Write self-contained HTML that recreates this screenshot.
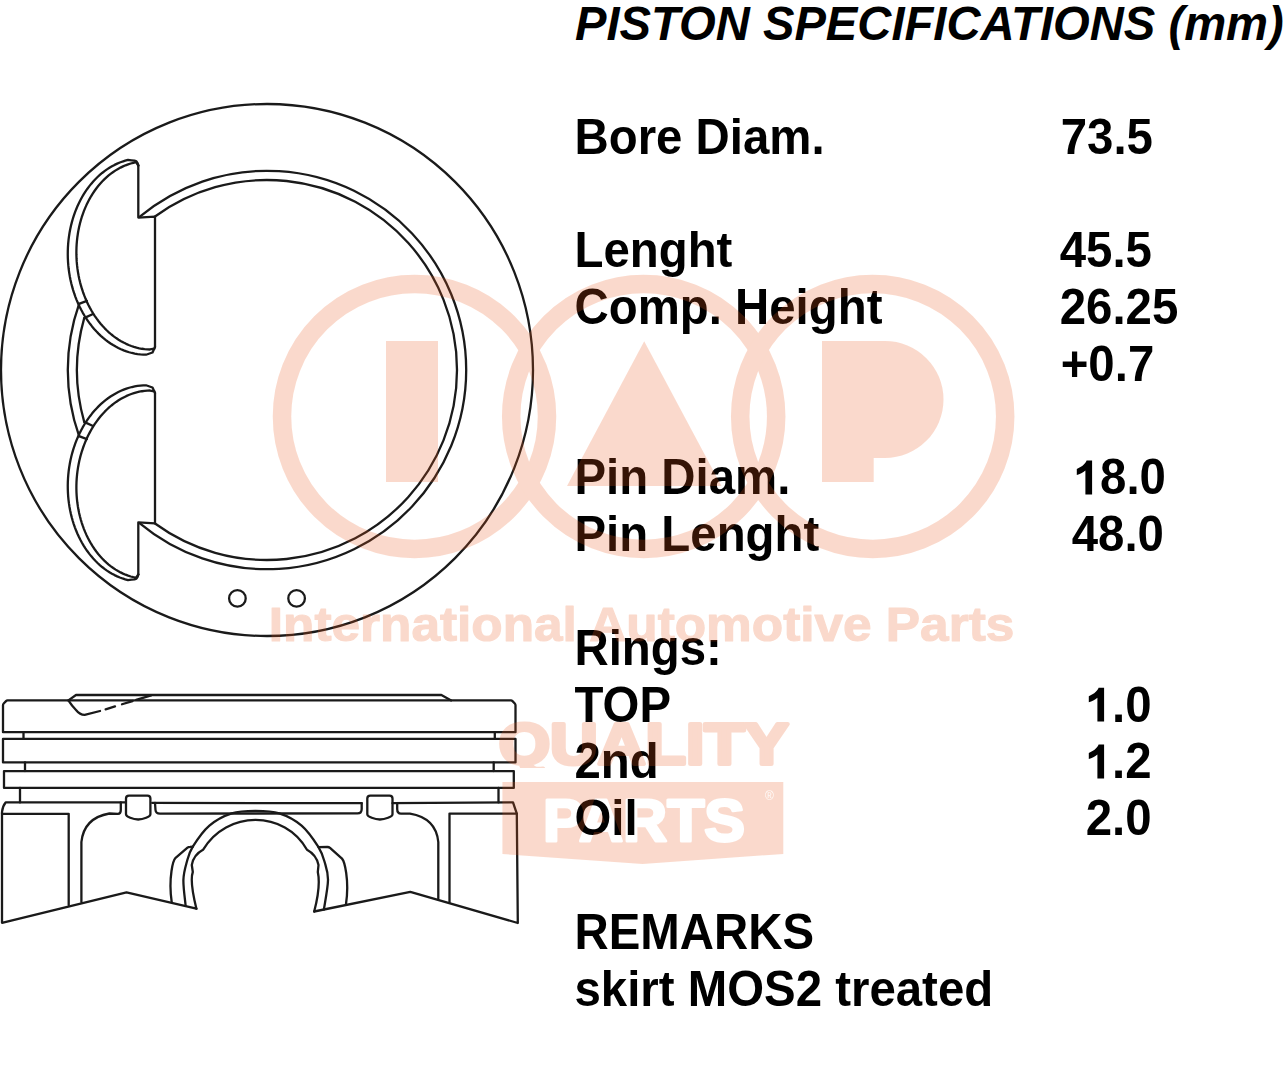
<!DOCTYPE html>
<html><head><meta charset="utf-8"><style>
html,body{margin:0;padding:0;background:#fff;width:1284px;height:1080px;overflow:hidden}
svg{display:block}
</style></head><body>
<svg width="1284" height="1080" viewBox="0 0 1284 1080">
<rect width="1284" height="1080" fill="#fff"/>
<g fill="none" stroke="#1a1a1a" stroke-width="2.3" stroke-linejoin="round" stroke-linecap="round">
<circle cx="267.0" cy="370.0" r="266.0"/>
<path d="M139.50,216.95 A199.2,199.2 0 1 1 139.50,523.05"/>
<path d="M155.00,216.52 A190.0,190.0 0 1 1 155.00,523.48"/>
<path d="M79.12,303.80 A199.2,199.2 0 0 0 79.12,436.20"/>
<path d="M84.28,317.90 A190.0,190.0 0 0 0 84.28,422.10"/>
<path d="M138.30,165.50L137.60,163.20L136.40,161.40L134.40,160.60L131.50,160.30L127.99,159.93L125.24,160.67L122.53,161.53L119.84,162.53L117.18,163.65L114.56,164.90L111.99,166.27L109.45,167.77L106.96,169.39L104.53,171.13L102.14,172.98L99.82,174.94L97.55,177.02L95.35,179.21L93.22,181.50L91.15,183.89L89.16,186.38L87.24,188.97L85.40,191.65L83.64,194.41L81.96,197.27L80.36,200.20L78.86,203.21L77.44,206.29L76.11,209.44L74.88,212.65L73.74,215.93L72.69,219.25L71.75,222.63L70.90,226.06L70.15,229.52L69.50,233.03L68.95,236.56L68.51,240.13L68.17,243.71L67.93,247.31L67.80,250.93L67.77,254.55L67.84,258.17L68.02,261.80L68.30,265.41L68.69,269.02L69.18,272.60L69.77,276.17L70.46,279.70L71.25,283.21L72.14,286.68L73.13,290.11L74.22,293.49L75.40,296.82L76.67,300.10L78.04,303.31L79.50,306.47L81.04,309.55L82.67,312.57L84.39,315.51L86.18,318.36L88.06,321.13L90.01,323.82L92.03,326.41L94.13,328.91L96.29,331.31L98.52,333.61L100.81,335.80L103.16,337.88L105.57,339.86L108.03,341.72L110.54,343.46L113.09,345.09L115.69,346.59L118.32,347.97L120.99,349.23L123.69,350.36L126.42,351.37L129.18,352.24L131.95,352.99L134.74,353.60L137.55,354.08L140.36,354.43L143.18,354.64L146.00,354.72L152.50,352.50L155.00,347.00"/>
<path d="M138.30,165.50L136.00,162.20L133.35,162.78L130.72,163.49L128.12,164.33L125.55,165.30L123.01,166.39L120.51,167.60L118.05,168.93L115.63,170.39L113.25,171.96L110.93,173.65L108.65,175.45L106.44,177.36L104.28,179.39L102.18,181.51L100.15,183.74L98.19,186.07L96.29,188.49L94.47,191.01L92.72,193.61L91.06,196.30L89.47,199.08L87.96,201.93L86.54,204.85L85.21,207.85L83.96,210.91L82.81,214.03L81.74,217.21L80.77,220.44L79.89,223.73L79.11,227.05L78.42,230.41L77.84,233.81L77.35,237.24L76.96,240.70L76.67,244.17L76.48,247.66L76.39,251.16L76.40,254.66L76.51,258.17L76.72,261.67L77.04,265.17L77.45,268.65L77.96,272.11L78.57,275.55L79.27,278.96L80.07,282.34L80.97,285.68L81.96,288.98L83.05,292.23L84.23,295.43L85.49,298.57L86.84,301.66L88.28,304.68L89.81,307.63L91.41,310.51L93.10,313.31L94.86,316.04L96.70,318.67L98.61,321.23L100.59,323.68L102.63,326.05L104.74,328.32L106.91,330.48L109.14,332.54L111.43,334.50L113.77,336.34L116.15,338.07L118.58,339.69L121.05,341.19L123.56,342.57L126.11,343.83L128.69,344.97L131.29,345.98L133.92,346.87L136.57,347.63L139.24,348.26L141.92,348.76L144.61,349.13L147.31,349.38L150.01,349.49L154.30,348.60"/>
<path d="M138.3,165.50 L138.3,217.60 L155.0,216.60 L155.0,347.00"/>
<path d="M79.0,303.80 L86.9,300.90 M84.6,317.90 L92.5,314.30"/>
<path d="M138.30,574.50L137.60,576.80L136.40,578.60L134.40,579.40L131.50,579.70L127.99,580.07L125.24,579.33L122.53,578.47L119.84,577.47L117.18,576.35L114.56,575.10L111.99,573.73L109.45,572.23L106.96,570.61L104.53,568.87L102.14,567.02L99.82,565.06L97.55,562.98L95.35,560.79L93.22,558.50L91.15,556.11L89.16,553.62L87.24,551.03L85.40,548.35L83.64,545.59L81.96,542.73L80.36,539.80L78.86,536.79L77.44,533.71L76.11,530.56L74.88,527.35L73.74,524.07L72.69,520.75L71.75,517.37L70.90,513.94L70.15,510.48L69.50,506.97L68.95,503.44L68.51,499.87L68.17,496.29L67.93,492.69L67.80,489.07L67.77,485.45L67.84,481.83L68.02,478.20L68.30,474.59L68.69,470.98L69.18,467.40L69.77,463.83L70.46,460.30L71.25,456.79L72.14,453.32L73.13,449.89L74.22,446.51L75.40,443.18L76.67,439.90L78.04,436.69L79.50,433.53L81.04,430.45L82.67,427.43L84.39,424.49L86.18,421.64L88.06,418.87L90.01,416.18L92.03,413.59L94.13,411.09L96.29,408.69L98.52,406.39L100.81,404.20L103.16,402.12L105.57,400.14L108.03,398.28L110.54,396.54L113.09,394.91L115.69,393.41L118.32,392.03L120.99,390.77L123.69,389.64L126.42,388.63L129.18,387.76L131.95,387.01L134.74,386.40L137.55,385.92L140.36,385.57L143.18,385.36L146.00,385.28L152.50,387.50L155.00,393.00"/>
<path d="M138.30,574.50L136.00,577.80L133.35,577.22L130.72,576.51L128.12,575.67L125.55,574.70L123.01,573.61L120.51,572.40L118.05,571.07L115.63,569.61L113.25,568.04L110.93,566.35L108.65,564.55L106.44,562.64L104.28,560.61L102.18,558.49L100.15,556.26L98.19,553.93L96.29,551.51L94.47,548.99L92.72,546.39L91.06,543.70L89.47,540.92L87.96,538.07L86.54,535.15L85.21,532.15L83.96,529.09L82.81,525.97L81.74,522.79L80.77,519.56L79.89,516.27L79.11,512.95L78.42,509.59L77.84,506.19L77.35,502.76L76.96,499.30L76.67,495.83L76.48,492.34L76.39,488.84L76.40,485.34L76.51,481.83L76.72,478.33L77.04,474.83L77.45,471.35L77.96,467.89L78.57,464.45L79.27,461.04L80.07,457.66L80.97,454.32L81.96,451.02L83.05,447.77L84.23,444.57L85.49,441.43L86.84,438.34L88.28,435.32L89.81,432.37L91.41,429.49L93.10,426.69L94.86,423.96L96.70,421.33L98.61,418.77L100.59,416.32L102.63,413.95L104.74,411.68L106.91,409.52L109.14,407.46L111.43,405.50L113.77,403.66L116.15,401.93L118.58,400.31L121.05,398.81L123.56,397.43L126.11,396.17L128.69,395.03L131.29,394.02L133.92,393.13L136.57,392.37L139.24,391.74L141.92,391.24L144.61,390.87L147.31,390.62L150.01,390.51L154.30,391.40"/>
<path d="M138.3,574.50 L138.3,522.40 L155.0,523.40 L155.0,393.00"/>
<path d="M79.0,436.20 L86.9,439.10 M84.6,422.10 L92.5,425.70"/>
<circle cx="237.4" cy="598.4" r="8.3"/>
<circle cx="296.6" cy="598.4" r="8.3"/>
</g>
<g fill="none" stroke="#1a1a1a" stroke-width="2.3" stroke-linejoin="round" stroke-linecap="round">
<path d="M68.4,700.4 L76,695 L441.4,695 L451.2,700.4"/>
<path d="M7.5,700.4 L511,700.4 Q511.8,700.4 512.5,701.1 L514.8,703.5 Q515.5,704.2 515.5,705.2 L515.5,732.2 L3,732.2 L3,705.2 Q3,704.2 3.7,703.5 L6,701.1 Q6.7,700.4 7.5,700.4"/>
<path d="M68.4,700.4 Q72,706 76,710 Q80,715 84.7,714.9 L100,711"/>
<path d="M105.6,709.28 L115.0,706.40 M122.0,704.25 L132.5,701.03 M136.2,699.90 L151.2,695.30"/>
<path d="M23.5,732.2 L23.5,738.9 M494.8,732.2 L494.8,738.9"/>
<path d="M3,738.9 L515.5,738.9 L515.5,762.4 L3,762.4 Z"/>
<path d="M25,762.4 L25,771.1 M493.7,762.4 L493.7,771.1"/>
<path d="M4.0,771.1 L513.8,771.1 L513.8,787.9 L4.0,787.9 Z"/>
<path d="M20,787.9 L20,802.4 M498.5,787.9 L498.5,802.4"/>
<path d="M125.5,802.4 L5.6,802.4 Q2.6,806 2.0,812 L2.0,922.8 L126.5,892.3 L196.4,908.7"/>
<path d="M152.2,802.9 L361.7,803.2"/>
<path d="M392.5,803.2 L513,802.4 L516.8,813.6 L517.8,923 L410.3,891.8 L314.2,911.5"/>
<path d="M2.0,813.8 L68.7,813.8 L68.7,905"/>
<path d="M516.8,813.6 L449.5,813.6 L449.5,902.4"/>
<path d="M81.4,902 L81.4,842 Q84,818 109.3,813.5 L118,813.9 Q120.8,813.9 120.8,810 L120.8,802.4"/>
<path d="M155,803 L155.5,810 Q155.8,813.6 160,813.6 L357.5,813.4 Q361.7,813.4 361.7,809 L361.7,803.2"/>
<path d="M438.3,898.7 L438.3,842 Q436,818 410,813.6 L401,813.6 Q397.2,813.6 397.2,809 L397.2,803.4"/>
<path d="M126.0,814.2 L126.0,798.6 Q126.0,795.6 129.0,795.6 L147.4,795.6 Q150.4,795.6 150.4,798.6 L150.4,814.2 C150.4,816.7 143.2,819.5 138.2,819.5 C133.2,819.5 126.0,816.7 126.0,814.2 Z"/>
<path d="M367.3,814.2 L367.3,798.6 Q367.3,795.6 370.3,795.6 L389.5,795.6 Q392.5,795.6 392.5,798.6 L392.5,814.2 C392.5,816.7 384.9,819.5 379.9,819.5 C374.9,819.5 367.3,816.7 367.3,814.2 Z"/>
<path d="M185.6,905.5 C185.23,901.25 183.20,887.25 183.40,880.00 C183.60,872.75 185.23,867.55 186.80,862.00 C188.37,856.45 189.03,852.77 192.80,846.70 C196.57,840.63 202.92,831.17 209.40,825.60 C215.88,820.03 224.02,815.77 231.70,813.30 C239.38,810.83 247.57,810.80 255.50,810.80 C263.43,810.80 271.62,810.83 279.30,813.30 C286.98,815.77 295.12,820.03 301.60,825.60 C308.08,831.17 314.37,840.63 318.20,846.70 C322.03,852.77 322.97,856.45 324.60,862.00 C326.23,867.55 328.12,872.08 328.00,880.00 C327.88,887.92 324.58,904.58 323.90,909.50"/>
<path d="M196.4,908.7 C193,895 190,880 192.8,872 L191.8,865 C193,858 197,853 203,849.8 C215,830 235,820 255.5,819.9 C276,820 296,830 307,849.8 C313,853 317,858 318.5,865 L317.8,872 C320,882 318,897 314.2,911.5"/>
<path d="M171.7,902 C170.2,892 170.2,880 171.5,871 C172.5,864 173.5,860 175.6,857.8 L187.5,847.6 Q188.5,846.8 190,846.8 L193,846.6"/>
<path d="M346,904 C347.5,894 347.5,882 346.2,873 C345.2,866 344.2,861 342,858.6 L330,847.8 Q329,847 327.5,847 L318.5,847.2"/>
</g>
<text x="575.0" y="39.6" font-family="Liberation Sans, sans-serif" font-weight="bold" font-size="47.2" fill="#000" font-style="italic">PISTON SPECIFICATIONS (mm)</text>
<text transform="translate(0 153.60) scale(1 1.035)" x="574.5" y="0" font-family="Liberation Sans, sans-serif" font-weight="bold" font-size="47.4" fill="#000" >Bore Diam.</text>
<text transform="translate(0 153.60) scale(1 1.035)" x="1060.7" y="0" font-family="Liberation Sans, sans-serif" font-weight="bold" font-size="47.4" fill="#000" >73.5</text>
<text transform="translate(0 267.20) scale(1 1.035)" x="574.5" y="0" font-family="Liberation Sans, sans-serif" font-weight="bold" font-size="47.4" fill="#000" >Lenght</text>
<text transform="translate(0 267.20) scale(1 1.035)" x="1059.7" y="0" font-family="Liberation Sans, sans-serif" font-weight="bold" font-size="47.4" fill="#000" >45.5</text>
<text transform="translate(0 324.00) scale(1 1.035)" x="574.5" y="0" font-family="Liberation Sans, sans-serif" font-weight="bold" font-size="47.4" fill="#000" >Comp. Height</text>
<text transform="translate(0 324.00) scale(1 1.035)" x="1059.7" y="0" font-family="Liberation Sans, sans-serif" font-weight="bold" font-size="47.4" fill="#000" >26.25</text>
<text transform="translate(0 380.80) scale(1 1.035)" x="1060.7" y="0" font-family="Liberation Sans, sans-serif" font-weight="bold" font-size="47.4" fill="#000" >+0.7</text>
<text transform="translate(0 494.40) scale(1 1.035)" x="574.5" y="0" font-family="Liberation Sans, sans-serif" font-weight="bold" font-size="47.4" fill="#000" >Pin Diam.</text>
<text transform="translate(0 494.40) scale(1 1.035)" x="1100.06162109375" y="0" font-family="Liberation Sans, sans-serif" font-weight="bold" font-size="47.4" fill="#000" >8.0</text>
<path fill="#000" d="M1086.60,460.60 L1092.10,460.60 L1092.10,494.40 L1085.40,494.40 L1085.40,470.60 C1082.90,472.80 1079.90,474.20 1076.80,475.00 L1076.80,469.00 C1079.20,468.00 1081.80,466.60 1083.80,464.60 C1085.20,463.20 1086.20,461.80 1086.60,460.60 Z"/>
<text transform="translate(0 551.20) scale(1 1.035)" x="574.5" y="0" font-family="Liberation Sans, sans-serif" font-weight="bold" font-size="47.4" fill="#000" >Pin Lenght</text>
<text transform="translate(0 551.20) scale(1 1.035)" x="1071.7" y="0" font-family="Liberation Sans, sans-serif" font-weight="bold" font-size="47.4" fill="#000" >48.0</text>
<text transform="translate(0 664.80) scale(1 1.035)" x="574.5" y="0" font-family="Liberation Sans, sans-serif" font-weight="bold" font-size="47.4" fill="#000" >Rings:</text>
<text transform="translate(0 721.60) scale(1 1.035)" x="574.5" y="0" font-family="Liberation Sans, sans-serif" font-weight="bold" font-size="47.4" fill="#000" >TOP</text>
<text transform="translate(0 721.60) scale(1 1.035)" x="1112.06162109375" y="0" font-family="Liberation Sans, sans-serif" font-weight="bold" font-size="47.4" fill="#000" >.0</text>
<path fill="#000" d="M1098.60,687.80 L1104.10,687.80 L1104.10,721.60 L1097.40,721.60 L1097.40,697.80 C1094.90,700.00 1091.90,701.40 1088.80,702.20 L1088.80,696.20 C1091.20,695.20 1093.80,693.80 1095.80,691.80 C1097.20,690.40 1098.20,689.00 1098.60,687.80 Z"/>
<text transform="translate(0 778.40) scale(1 1.035)" x="574.5" y="0" font-family="Liberation Sans, sans-serif" font-weight="bold" font-size="47.4" fill="#000" >2nd</text>
<text transform="translate(0 778.40) scale(1 1.035)" x="1112.06162109375" y="0" font-family="Liberation Sans, sans-serif" font-weight="bold" font-size="47.4" fill="#000" >.2</text>
<path fill="#000" d="M1098.60,744.60 L1104.10,744.60 L1104.10,778.40 L1097.40,778.40 L1097.40,754.60 C1094.90,756.80 1091.90,758.20 1088.80,759.00 L1088.80,753.00 C1091.20,752.00 1093.80,750.60 1095.80,748.60 C1097.20,747.20 1098.20,745.80 1098.60,744.60 Z"/>
<text transform="translate(0 835.20) scale(1 1.035)" x="574.5" y="0" font-family="Liberation Sans, sans-serif" font-weight="bold" font-size="47.4" fill="#000" >Oil</text>
<text transform="translate(0 835.20) scale(1 1.035)" x="1085.7" y="0" font-family="Liberation Sans, sans-serif" font-weight="bold" font-size="47.4" fill="#000" >2.0</text>
<text transform="translate(0 948.80) scale(1 1.035)" x="574.5" y="0" font-family="Liberation Sans, sans-serif" font-weight="bold" font-size="47.4" fill="#000" >REMARKS</text>
<text transform="translate(0 1005.60) scale(1 1.035)" x="574.5" y="0" font-family="Liberation Sans, sans-serif" font-weight="bold" font-size="47.4" fill="#000" >skirt MOS2 treated</text>
<defs><clipPath id="qclip"><rect x="0" y="700" width="1284" height="68"/></clipPath><mask id="partsmask" maskUnits="userSpaceOnUse" x="0" y="0" width="1284" height="1080"><rect x="0" y="0" width="1284" height="1080" fill="#fff"/><text x="543" y="840.5" fill="#000" stroke="#000" stroke-width="3" stroke-linejoin="round" font-family="Liberation Sans, sans-serif" font-weight="bold" font-size="59" textLength="202" lengthAdjust="spacingAndGlyphs">PARTS</text><text x="765" y="800" fill="#000" font-family="Liberation Sans, sans-serif" font-size="12">®</text></mask></defs>
<g opacity="0.225" fill="#eb5a1e">
<circle cx="414.5" cy="416.5" r="132.5" fill="none" stroke="#eb5a1e" stroke-width="18.5"/>
<circle cx="643.7" cy="416.5" r="132.5" fill="none" stroke="#eb5a1e" stroke-width="18.5"/>
<circle cx="872.7" cy="416.5" r="132.5" fill="none" stroke="#eb5a1e" stroke-width="18.5"/>
<rect x="386" y="341" width="52" height="141"/>
<path d="M644.2,341.2 L721.5,486 L567,486 Z"/>
<path d="M822,341 L885,341 A58.5,58.5 0 0 1 885,458 L873.7,458 L873.7,482 L822,482 Z"/>
<text x="268.8" y="641.2" font-family="Liberation Sans, sans-serif" font-weight="bold" font-size="49" stroke="#eb5a1e" stroke-width="1.2" stroke-linejoin="round" textLength="745.5" lengthAdjust="spacingAndGlyphs">International Automotive Parts</text>
<text x="498.7" y="764" clip-path="url(#qclip)" font-family="Liberation Sans, sans-serif" font-weight="bold" font-size="58" stroke="#eb5a1e" stroke-width="4" stroke-linejoin="round" textLength="290" lengthAdjust="spacingAndGlyphs">QUALITY</text>
<path d="M502.4,782 L783.3,782 L783.3,854 L642.5,864 L502.4,854 Z" mask="url(#partsmask)"/>
</g>
</svg>
</body></html>
